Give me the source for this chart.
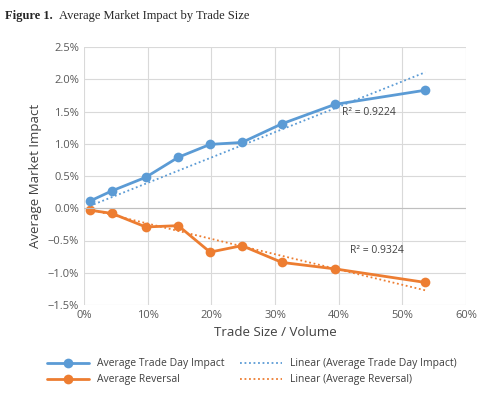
import numpy as np, pandas as pd, seaborn as sns, matplotlib
matplotlib.use("Agg")
import matplotlib.pyplot as plt
from matplotlib.ticker import PercentFormatter

trade_size = [0.9, 4.4, 9.7, 14.8, 19.8, 24.8, 31.1, 39.4, 53.6]
impact = [0.11, 0.27, 0.48, 0.79, 0.99, 1.02, 1.31, 1.61, 1.83]
reversal = [-0.03, -0.08, -0.29, -0.27, -0.68, -0.58, -0.84, -0.94, -1.15]
blue, orange = "#5b9bd5", "#ed7d31"

sns.set_style("white")
plt.rcParams['font.family'] = ['Open Sans', 'DejaVu Sans']
fig = plt.figure(figsize=(4.89, 4.18), dpi=100)
ax = fig.add_axes([84/489, 1-305/418, 382/489, 258/418])
df = pd.DataFrame({"x": trade_size, "imp": impact, "rev": reversal})
sns.lineplot(data=df, x="x", y="imp", ax=ax, color=blue, marker="o", markersize=7, markeredgewidth=0, lw=2, label="Average Trade Day Impact")
sns.lineplot(data=df, x="x", y="rev", ax=ax, color=orange, marker="o", markersize=7, markeredgewidth=0, lw=2, label="Average Reversal")
x = np.array(trade_size)
for y, c, lab in [(impact, blue, "Linear (Average Trade Day Impact)"), (reversal, orange, "Linear (Average Reversal)")]:
    y = np.array(y)
    m = (x*y).sum() / (x*x).sum()  # trend line through origin
    xx = np.array([x[0], x[-1]])
    ax.plot(xx, m*xx, ls=(0, (1, 1.5)), color=c, lw=1.3, label=lab)
ax.text(40.5, 1.45, "R² = 0.9224", fontsize=7.5, color="#404040")
ax.text(41.8, -0.7, "R² = 0.9324", fontsize=7.5, color="#404040")
ax.set_xlim(0, 60); ax.set_ylim(-1.5, 2.5)
ax.set_xticks(range(0, 61, 10)); ax.set_yticks(np.arange(-1.5, 2.51, 0.5))
ax.xaxis.set_major_formatter(PercentFormatter(decimals=0))
ax.yaxis.set_major_formatter(PercentFormatter(decimals=1))
ax.tick_params(labelsize=8, colors="#595959", length=0)
ax.grid(True, color="#d9d9d9", lw=0.8)
ax.axhline(0, color="#bfbfbf", lw=0.8)
for s in ax.spines.values(): s.set_visible(False)
ax.set_xlabel("Trade Size / Volume", fontsize=9.5, color="#404040")
ax.set_ylabel("Average Market Impact", fontsize=9.5, color="#404040")
ax.legend(loc="upper center", bbox_to_anchor=(0.44, -0.17), ncol=2, frameon=False, fontsize=7.5, handlelength=4, columnspacing=1.5, labelcolor="#404040")
fig.text(0.01, 0.975, "Figure 1.", fontsize=9, family="Liberation Serif", weight="bold", va="top")
fig.text(0.12, 0.975, "Average Market Impact by Trade Size", fontsize=9, family="Liberation Serif", va="top")
fig.savefig("out.png")
